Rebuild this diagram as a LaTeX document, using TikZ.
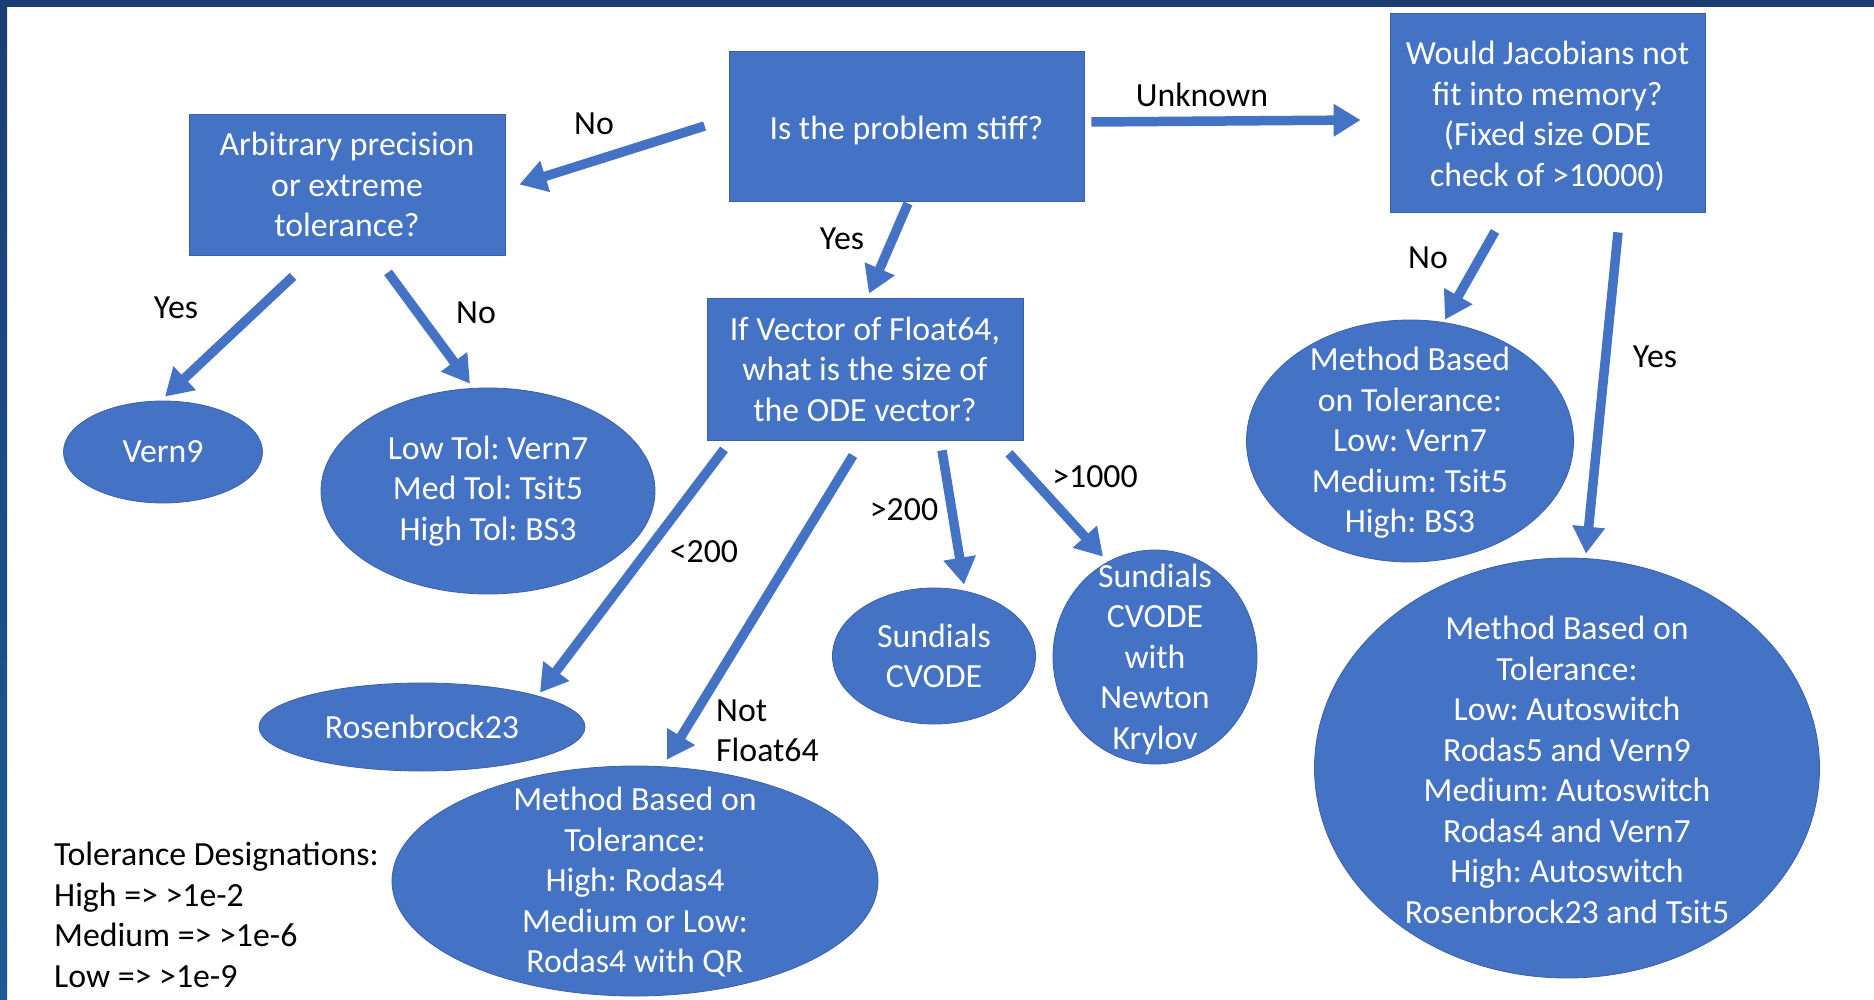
\documentclass[tikz,border=0pt]{standalone}
\usepackage{fontspec}
\setmainfont{Carlito}
\usetikzlibrary{arrows.meta,shapes.geometric}
\definecolor{obl}{HTML}{4472C4}
\definecolor{navy}{HTML}{1B3E72}
\definecolor{bandteal}{HTML}{3A8AAE}
\definecolor{bandblue}{HTML}{1F5A94}
\newcommand\chartfont{\fontsize{33.8}{40.5}\selectfont}
\frenchspacing
\begin{document}
\begin{tikzpicture}[x=1pt,y=-1pt,
  every node/.style={font=\chartfont},
  box/.style={rectangle, fill=obl, draw=obl!85!black, line width=0.8pt,
              text=white, align=center, inner sep=0pt},
  ell/.style={ellipse, fill=obl, draw=obl!85!black, line width=0.8pt, inner sep=0pt},
  txt/.style={text=white, align=center},
  lbl/.style={text=black, align=left, inner sep=0pt},
  arr/.style={draw=obl, line width=9.5pt, -{Triangle[width=31pt,length=27pt]}},
]
\useasboundingbox (0,0) rectangle (1874,1000);
\fill[white] (0,0) rectangle (1874,1000);

% frame bands
\fill[left color=navy, middle color=bandteal, right color=navy] (0,0) rectangle (1874,7);
\fill[top color=navy, bottom color=bandblue] (0,0) rectangle (7,1000);

% decision boxes
\node[box, minimum width=355, minimum height=150] (stiff) at (906.5,126) {};
\node[txt] (tstiff) at ([yshift=-4pt]stiff.center) {Is the problem stiff?};
\node[box, minimum width=316, minimum height=141] (arb) at (347,184.5) {Arbitrary precision\\or extreme\\tolerance?};
\node[box, minimum width=315, minimum height=199] (jac) at (1547.5,112.5) {};
\node[txt] (tjac) at ([yshift=-3.5pt]jac.center) {Would Jacobians not\\fit into memory?\\(Fixed size ODE\\check of >10000)};
\node[box, minimum width=316, minimum height=142] (vec) at (865,369) {If Vector of Float64,\\what is the size of\\the ODE vector?};

% outcomes
\node[ell, minimum width=199, minimum height=102] (vern9) at (163,452) {};
\node[txt] (tvern9) at (vern9.center) {Vern9};
\node[ell, minimum width=334, minimum height=206] (lowtol) at (488,491) {};
\node[txt] (tlowtol) at (lowtol.center) {Low Tol: Vern7\\Med Tol: Tsit5\\High Tol: BS3};
\node[ell, minimum width=326, minimum height=88] (rosen) at (422,727) {};
\node[txt] (trosen) at (rosen.center) {Rosenbrock23};
\node[ell, minimum width=486, minimum height=230] (rodas) at (635,881) {};
\node[txt] (trodas) at ([yshift=-1pt]rodas.center) {Method Based on\\Tolerance:\\High: Rodas4\\Medium or Low:\\Rodas4 with QR};
\node[ell, minimum width=203, minimum height=136] (cvode) at (934,656) {};
\node[txt] (tcvode) at (cvode.center) {Sundials\\CVODE};
\node[ell, minimum width=204, minimum height=214] (nk) at (1155,657) {};
\node[txt] (tnk) at ([yshift=-2pt]nk.center) {Sundials\\CVODE\\with\\Newton\\Krylov};
\node[ell, minimum width=327, minimum height=242] (methr) at (1410,441) {};
\node[txt] (tmethr) at ([yshift=-2pt]methr.center) {Method Based\\on Tolerance:\\Low: Vern7\\Medium: Tsit5\\High: BS3};
\node[ell, minimum width=505, minimum height=420] (big) at (1567,768) {};
\node[txt] (tbig) at ([yshift=-2pt]big.center) {Method Based on\\Tolerance:\\Low: Autoswitch\\Rodas5 and Vern9\\Medium: Autoswitch\\Rodas4 and Vern7\\High: Autoswitch\\Rosenbrock23 and Tsit5};

% connectors
\draw[arr] ([xshift=-24pt]stiff.west) -- ([xshift=14pt]arb.east);
\draw[arr] ([xshift=7pt,yshift=4pt]stiff.east) -- ([xshift=-29pt,yshift=-7.5pt]jac.west);
\draw[arr] ([xshift=1.5pt,yshift=-2pt]stiff.south) -- ([xshift=4pt,yshift=4pt]vec.north);
\draw[arr] ([xshift=-54pt,yshift=-21pt]arb.south) -- ([xshift=2pt,yshift=4pt]vern9.north);
\draw[arr] ([xshift=41pt,yshift=-17pt]arb.south) -- ([xshift=-18pt,yshift=4pt]lowtol.north);
\draw[arr] ([xshift=-141pt,yshift=-9pt]vec.south) -- ([xshift=118pt,yshift=-10pt]rosen.north);
\draw[arr] ([xshift=-12pt,yshift=-15pt]vec.south) -- ([xshift=32pt,yshift=6pt]rodas.north);
\draw[arr] ([xshift=77pt,yshift=-10pt]vec.south) -- ([xshift=30pt,yshift=3pt]cvode.north);
\draw[arr] ([xshift=144pt,yshift=-13pt]vec.south) -- ([xshift=-52pt,yshift=-7pt]nk.north);
\draw[arr] ([xshift=-52.5pt,yshift=-19pt]jac.south) -- ([xshift=35pt]methr.north);
\draw[arr] ([xshift=70.5pt,yshift=-20pt]jac.south) -- ([xshift=19pt,yshift=4pt]big.north);

% connector labels
\node[lbl] (lno1) at (594,124) {No};
\node[lbl] (lunk) at (1202,95) {Unknown};
\node[lbl] (lyes1) at (842,239) {Yes};
\node[lbl] (lyes2) at (176,308) {Yes};
\node[lbl] (lno2) at (476,313) {No};
\node[lbl] (llt) at (704,552) {<200};
\node[lbl, anchor=west] (lnf) at (716,731) {Not\\Float64};
\node[lbl] (lgt) at (904,510) {>200};
\node[lbl] (lgtk) at (1095,477) {>1000};
\node[lbl] (lno3) at (1428,258) {No};
\node[lbl] (lyes3) at (1655,357) {Yes};

% legend
\node[lbl, anchor=west] (legend) at (54,915) {Tolerance Designations:\\High => >1e-2\\Medium => >1e-6\\Low => >1e-9};
\end{tikzpicture}
\end{document}
